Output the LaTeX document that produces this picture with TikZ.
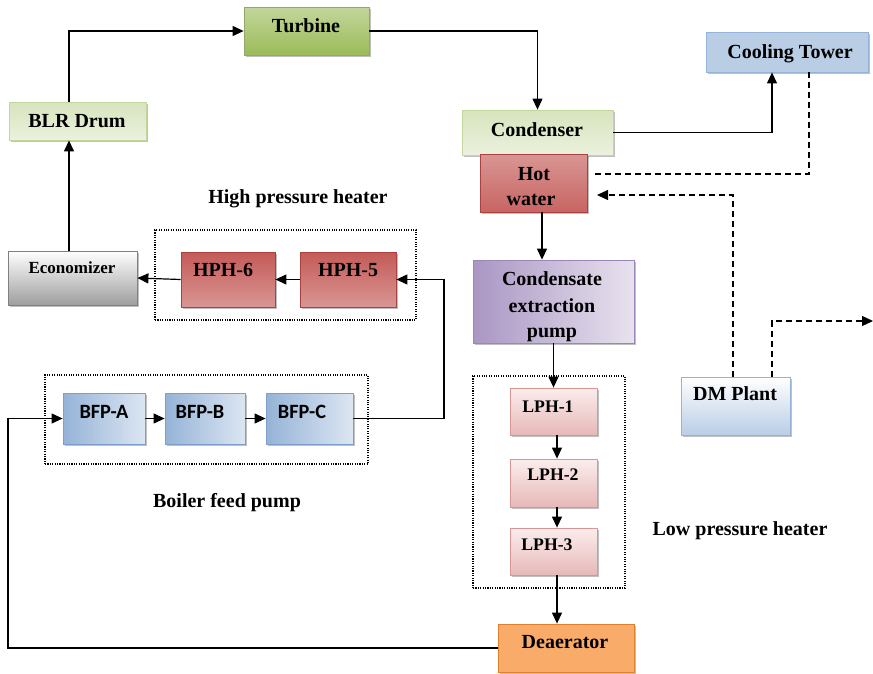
\documentclass[tikz,border=0pt]{standalone}
\usepackage{fontspec}
\setmainfont{Liberation Serif}
\newfontfamily\pumpfont{Carlito}
\usetikzlibrary{arrows.meta,shadows,fit}

% palette
\definecolor{grnD}{HTML}{9BBB59}
\definecolor{grnM}{HTML}{C3D69B}
\definecolor{grnL}{HTML}{D7E4BD}
\definecolor{grnP}{HTML}{EBF1DE}
\definecolor{grnE}{HTML}{A8C87A}
\definecolor{redD}{HTML}{C0504D}
\definecolor{redM}{HTML}{D99694}
\definecolor{redL}{HTML}{E6B9B8}
\definecolor{redP}{HTML}{FBEDED}
\definecolor{redE}{HTML}{A9423F}
\definecolor{bluD}{HTML}{95B3D7}
\definecolor{bluM}{HTML}{B9CDE5}
\definecolor{bluP}{HTML}{DCE6F2}
\definecolor{bluE}{HTML}{7F9FCB}
\definecolor{purD}{HTML}{A996C4}
\definecolor{purP}{HTML}{E8E2EE}
\definecolor{purE}{HTML}{9A86B8}
\definecolor{orgD}{HTML}{F79646}
\definecolor{orgL}{HTML}{F9AC6A}
\definecolor{orgE}{HTML}{E07F2E}

\begin{document}
\begin{tikzpicture}[x=1pt,y=-1pt,
  unit/.style={rectangle, inner sep=0pt, line width=0.8pt,
    drop shadow={shadow xshift=1.6pt, shadow yshift=-2.2pt, opacity=0.45, fill=black!55}},
  turbinefill/.style={unit, draw=grnE!85!black, top color=grnM, middle color=grnD!85!grnM, bottom color=grnD},
  lightgreen/.style={unit, draw=grnM, top color=grnL, bottom color=grnP},
  hotfill/.style={unit, draw=redE, top color=redM, middle color=redD, bottom color=redD!70!redM},
  hphfill/.style={unit, draw=redE, top color=redD!85!redM, middle color=redD, bottom color=redM},
  lphfill/.style={unit, draw=redM, top color=redP, bottom color=redL},
  ecofill/.style={unit, draw=black!50, top color=white, bottom color=black!38},
  coolfill/.style={unit, draw=bluD, top color=bluM, middle color=bluP!40!white, bottom color=bluM},
  dmfill/.style={unit, draw=bluD, top color=white, bottom color=bluM},
  bfpfill/.style={unit, draw=bluE, shading angle=135, left color=bluD, right color=bluP},
  cepfill/.style={unit, draw=purE, shading angle=120, left color=purD, right color=purP},
  deafill/.style={unit, draw=orgE, top color=orgL, middle color=orgD, bottom color=orgL},
  group/.style={rectangle, inner sep=0pt, draw, line width=1.1pt, dash pattern=on 1.1pt off 1.3pt},
  flow/.style={line width=1.2pt, -{Triangle[length=11pt,width=10pt]}},
  ret/.style={line width=1.1pt, dash pattern=on 6pt off 4pt},
  retflow/.style={ret, -{Triangle[length=11pt,width=10pt]}},
  lbl/.style={font=\bfseries\fontsize{20}{24}\selectfont, anchor=base, inner sep=0pt},
  small/.style={font=\bfseries\fontsize{17.7}{21}\selectfont, anchor=base, inner sep=0pt},
  pumplbl/.style={font=\pumpfont\bfseries\fontsize{20.3}{24}\selectfont, anchor=base, inner sep=0pt}
]
\useasboundingbox (0,0) rectangle (873,673);

% equipment blocks
\node[turbinefill, fit={(244,7) (369,55)}] (turbine) {};
\node[lightgreen, fit={(9,102) (146,140)}] (drum) {};
\node[ecofill, fit={(8,251) (137,305)}] (eco) {};
\node[group, fit={(155,230) (416,320)}] (hpgroup) {};
\node[hphfill, fit={(181,252) (275,307)}] (hph6) {};
\node[hphfill, fit={(300,252) (396,307)}] (hph5) {};
\node[lightgreen, fit={(462,110) (613,155)}] (cond) {};
\node[hotfill, fit={(480,154) (587,212)}] (hot) {};
\node[coolfill, fit={(706,32) (868,72)}] (tower) {};
\node[cepfill, fit={(473,260) (634,343)}] (cep) {};
\node[group, fit={(473,376) (625,588)}] (lpgroup) {};
\node[lphfill, fit={(510,388) (597,435)}] (lph1) {};
\node[lphfill, fit={(510,459) (597,507)}] (lph2) {};
\node[lphfill, fit={(510,528) (597,575)}] (lph3) {};
\node[deafill, fit={(498,624) (634,672)}] (dea) {};
\node[group, fit={(45,375) (368,464)}] (bfpgroup) {};
\node[bfpfill, fit={(63,393) (145,444)}] (bfpa) {};
\node[bfpfill, fit={(165,393) (245,444)}] (bfpb) {};
\node[bfpfill, fit={(266,393) (353,444)}] (bfpc) {};
\node[dmfill, fit={(681,377) (790,435)}] (dm) {};

% block labels
\node[lbl] (turbine-t) at (306,32) {Turbine};
\node[lbl] (drum-t) at (77,127) {BLR Drum};
\node[font=\bfseries\fontsize{17}{20}\selectfont, anchor=base, inner sep=0pt] (eco-t) at (72,273) {Economizer};
\node[lbl] (hph6-t) at (223,276) {HPH-6};
\node[lbl] (hph5-t) at (348,276) {HPH-5};
\node[lbl] (cond-t) at (537,136) {Condenser};
\node[lbl] (hot-t1) at (534,180) {Hot};
\node[lbl] (hot-t2) at (531,205) {water};
\node[lbl] (tower-t) at (790,58) {Cooling Tower};
\node[lbl] (cep-t1) at (552,285) {Condensate};
\node[lbl] (cep-t2) at (552,312) {extraction};
\node[lbl] (cep-t3) at (552,337) {pump};
\node[small] (lph1-t) at (548,412) {LPH-1};
\node[small] (lph2-t) at (553,480) {LPH-2};
\node[small] (lph3-t) at (547,550) {LPH-3};
\node[lbl] (dea-t) at (565,648) {Deaerator};
\node[lbl] (dm-t) at (735,400) {DM Plant};
\node[pumplbl] (bfpa-t) at (104,418) {BFP-A};
\node[pumplbl] (bfpb-t) at (200,418) {BFP-B};
\node[pumplbl] (bfpc-t) at (302,418) {BFP-C};

% group captions
\node[lbl] (hp-cap) at (298,203) {High pressure heater};
\node[lbl] (bfp-cap) at (227,507) {Boiler feed pump};
\node[lbl] (lp-cap) at (740,535) {Low pressure heater};

% routing points
\coordinate (riser) at (69,0);
\coordinate (ctup) at (772,0);
\coordinate (ctdrop) at (809,0);
\coordinate (twret) at (595,174);
\coordinate (dmup) at (733,0);
\coordinate (dmin) at (597,195);
\coordinate (dmout) at (772,0);
\coordinate (dmexit) at (873,321);
\coordinate (hx) at (542,0);
\coordinate (lx) at (557,0);
\coordinate (loop) at (8,0);
\coordinate (upx) at (444,0);

% steam / water circuit
\draw[flow] (riser |- drum.north) |- (turbine.west);
\draw[flow] (riser |- eco.north) -- (riser |- drum.south);
\draw[flow] (turbine.east) -| (cond.north);
\draw[flow] (cond.east) -| (ctup |- tower.south);
\draw[flow] (hx |- hot.south) -- (hx |- cep.north);
\draw[flow] (cep.south) -- (lph1.north);
\draw[flow] (lx |- lph1.south) -- (lx |- lph2.north);
\draw[flow] (lx |- lph2.south) -- (lx |- lph3.north);
\draw[flow] (lx |- lph3.south) -- (lx |- dea.north);
\draw[flow] (dea.west) -| (loop |- bfpa.west) -- (bfpa.west);
\draw[flow] (bfpa.east) -- (bfpb.west);
\draw[flow] (bfpb.east) -- (bfpc.west);
\draw[flow] (bfpc.east) -| (upx |- hph5.east) -- (hph5.east);
\draw[flow] (hph5.west) -- (hph6.east);
\draw[flow] (hph6.west) -- (eco.east);

% cooling water and make-up lines
\draw[ret] (ctdrop |- tower.south) |- (twret);
\draw[retflow] (dmup |- dm.north) |- (dmin);
\draw[retflow] (dmout |- dm.north) |- (dmexit);
\end{tikzpicture}
\end{document}
